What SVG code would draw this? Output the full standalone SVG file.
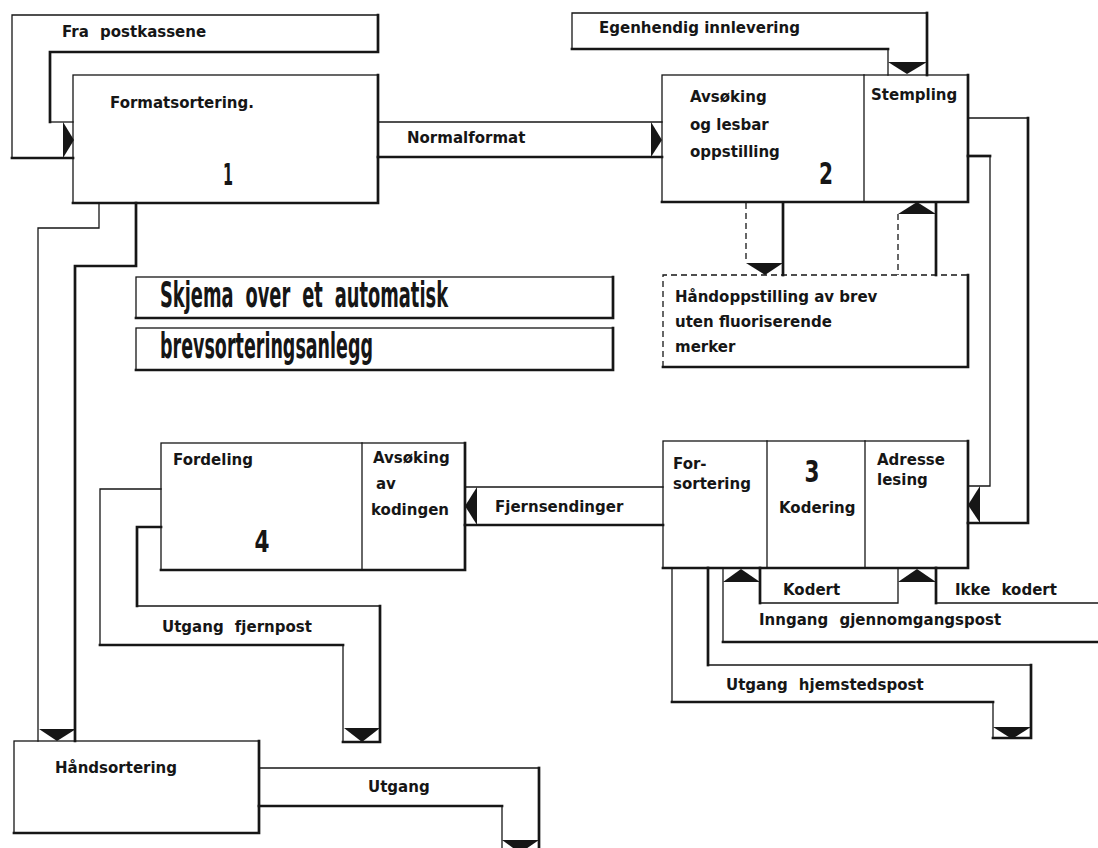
<svg xmlns="http://www.w3.org/2000/svg" width="1098" height="848" viewBox="0 0 1098 848">
<style>
.bx{fill:#fff;stroke:#161616;stroke-width:1.3}
.tk{fill:none;stroke:#161616;stroke-width:2.7;stroke-linecap:square}
.tn{fill:none;stroke:#161616;stroke-width:1.3;stroke-linecap:square}
.ds{fill:none;stroke:#161616;stroke-width:1.3;stroke-dasharray:6 4}
.ar{fill:#161616}
.lb{font-family:"DejaVu Sans","Liberation Sans",sans-serif;font-weight:bold;font-size:15px;fill:#161616}
.ws{word-spacing:6px}
.nm{font-family:"DejaVu Sans Condensed","DejaVu Sans",sans-serif;font-weight:bold;font-size:30px;fill:#161616;text-anchor:middle}
.tt{font-family:"DejaVu Sans Condensed","DejaVu Sans",sans-serif;font-weight:bold;font-size:35px;fill:#161616;word-spacing:10px}
</style>
<rect x="0" y="0" width="1098" height="848" fill="#fff"/>

<g id="node-1">
<rect class="bx" x="73" y="75" width="305" height="128"/>
<path class="tk" d="M378,75 V203 H73"/>
<text class="lb" x="110" y="108">Formatsortering.</text>
<text class="nm" x="228" y="185" textLength="10" lengthAdjust="spacingAndGlyphs">1</text>
</g>

<g id="node-2">
<rect class="bx" x="662" y="75" width="306" height="127"/>
<path class="tk" d="M968,75 V202 H662"/>
<line class="tn" x1="864" y1="75" x2="864" y2="202"/>
<text class="lb" x="690" y="102">Avsøking</text>
<text class="lb" x="690" y="130">og lesbar</text>
<text class="lb" x="690" y="157">oppstilling</text>
<text class="nm" x="826" y="184" textLength="14" lengthAdjust="spacingAndGlyphs">2</text>
<text class="lb" x="871" y="100">Stempling</text>
</g>

<g id="node-hand-oppstilling">
<rect x="663" y="275" width="305" height="92" fill="#fff"/>
<path class="ds" d="M663,367 V275 H968"/>
<path class="tk" d="M968,275 V367 H663"/>
<text class="lb" x="675" y="302">Håndoppstilling av brev</text>
<text class="lb" x="675" y="327">uten fluoriserende</text>
<text class="lb" x="675" y="352">merker</text>
</g>

<g id="title">
<rect class="bx" x="136" y="277" width="477" height="41"/>
<path class="tk" d="M613,277 V318 H136"/>
<text class="tt" x="160" y="307" textLength="288" lengthAdjust="spacingAndGlyphs">Skjema over et automatisk</text>
<rect class="bx" x="136" y="328" width="477" height="42"/>
<path class="tk" d="M613,328 V370 H136"/>
<text class="tt" x="160" y="358" textLength="213" lengthAdjust="spacingAndGlyphs">brevsorteringsanlegg</text>
</g>

<g id="node-3">
<rect class="bx" x="663" y="441" width="305" height="127"/>
<path class="tk" d="M968,441 V568 H663"/>
<line class="tn" x1="767" y1="441" x2="767" y2="568"/>
<line class="tn" x1="865" y1="441" x2="865" y2="568"/>
<text class="lb" x="673" y="469">For-</text>
<text class="lb" x="673" y="489">sortering</text>
<text class="nm" x="812" y="482" textLength="15" lengthAdjust="spacingAndGlyphs">3</text>
<text class="lb" x="779" y="513">Kodering</text>
<text class="lb" x="877" y="465">Adresse</text>
<text class="lb" x="877" y="485">lesing</text>
</g>

<g id="node-4">
<rect class="bx" x="161" y="443" width="304" height="127"/>
<path class="tk" d="M465,443 V570 H161"/>
<line class="tn" x1="362" y1="443" x2="362" y2="570"/>
<text class="lb" x="173" y="465">Fordeling</text>
<text class="nm" x="262" y="552" textLength="15" lengthAdjust="spacingAndGlyphs">4</text>
<text class="lb" x="373" y="463">Avsøking</text>
<text class="lb" x="376" y="489">av</text>
<text class="lb" x="371" y="515">kodingen</text>
</g>

<g id="node-handsortering">
<rect class="bx" x="14" y="741" width="245" height="92"/>
<path class="tk" d="M259,741 V833 H14"/>
<text class="lb" x="55" y="773">Håndsortering</text>
</g>

<g id="connectors">
<!-- Fra postkassene -->
<path class="tn" d="M12,158 V15 H378"/>
<path class="tk" d="M378,15 V52 H50 V122"/>
<path class="tn" d="M50,122 H73"/>
<path class="tk" d="M12,158 H73"/>
<polygon class="ar" points="63,122 74,140 63,158"/>
<text class="lb ws" x="62" y="37">Fra postkassene</text>

<!-- Egenhendig innlevering -->
<path class="tn" d="M572,49 V13 H927"/>
<path class="tk" d="M927,13 V75"/>
<path class="tk" d="M572,49 H888"/>
<path class="tn" d="M888,49 V75"/>
<polygon class="ar" points="888,62 927,62 907,74"/>
<text class="lb" x="599" y="33">Egenhendig innlevering</text>

<!-- Normalformat -->
<path class="tn" d="M378,122 H662"/>
<path class="tk" d="M378,157 H662"/>
<polygon class="ar" points="651,122 662,140 651,157"/>
<text class="lb" x="407" y="143">Normalformat</text>

<!-- to / from manual -->
<path class="ds" d="M746,203 V263"/>
<path class="tk" d="M783,203 V275"/>
<polygon class="ar" points="746,263 783,263 765,275"/>
<path class="ds" d="M898,214 V275"/>
<path class="tk" d="M936,203 V275"/>
<polygon class="ar" points="898,214 936,214 917,202"/>

<!-- Stempling to Adresse lesing -->
<path class="tn" d="M968,118 H1028"/>
<path class="tk" d="M1028,118 V523 H968"/>
<path class="tk" d="M968,156 H990"/>
<path class="tn" d="M990,156 V486 H968"/>
<polygon class="ar" points="980,486 980,523 968,505"/>

<!-- Fjernsendinger -->
<path class="tn" d="M465,487 H663"/>
<path class="tk" d="M465,525 H663"/>
<polygon class="ar" points="477,487 477,525 465,506"/>
<text class="lb" x="495" y="512">Fjernsendinger</text>

<!-- Box 1 to Håndsortering -->
<path class="tn" d="M99,203 V228 H38 V741"/>
<path class="tk" d="M136,203 V266 H75 V741"/>
<polygon class="ar" points="39,729 76,729 57,741"/>

<!-- Utgang fjernpost -->
<path class="tn" d="M161,489 H100 V645"/>
<path class="tk" d="M100,645 H343"/>
<path class="tn" d="M343,645 V742"/>
<path class="tk" d="M161,527 H137 V606"/>
<path class="tn" d="M137,606 H380"/>
<path class="tk" d="M380,606 V742 H343"/>
<polygon class="ar" points="344,728 380,728 362,742"/>
<text class="lb ws" x="162" y="632">Utgang fjernpost</text>

<!-- Utgang -->
<path class="tn" d="M259,768 H539"/>
<path class="tk" d="M539,768 V848"/>
<path class="tk" d="M259,806 H502"/>
<path class="tn" d="M502,806 V848"/>
<polygon class="ar" points="502,840 539,840 520,853"/>
<text class="lb" x="368" y="792">Utgang</text>

<!-- Utgang hjemstedspost -->
<path class="tn" d="M672,568 V702"/>
<path class="tk" d="M672,702 H993"/>
<path class="tn" d="M993,702 V738"/>
<path class="tk" d="M708,568 V665"/>
<path class="tn" d="M708,665 H1031"/>
<path class="tk" d="M1031,665 V738 H993"/>
<polygon class="ar" points="993,727 1031,727 1012,739"/>
<text class="lb ws" x="726" y="690">Utgang hjemstedspost</text>

<!-- Inngang gjennomgangspost / Kodert / Ikke kodert -->
<path class="tn" d="M723,568 V642"/>
<path class="tk" d="M723,642 H1098"/>
<polygon class="ar" points="723,582 760,582 741,569"/>
<path class="tk" d="M760,568 V603"/>
<path class="tn" d="M760,603 H898 V568"/>
<path class="tk" d="M936,568 V603"/>
<path class="tn" d="M936,603 H1098"/>
<polygon class="ar" points="898,582 936,582 917,569"/>
<text class="lb" x="783" y="595">Kodert</text>
<text class="lb ws" x="955" y="595">Ikke kodert</text>
<text class="lb ws" x="759" y="625">Inngang gjennomgangspost</text>
</g>
</svg>
